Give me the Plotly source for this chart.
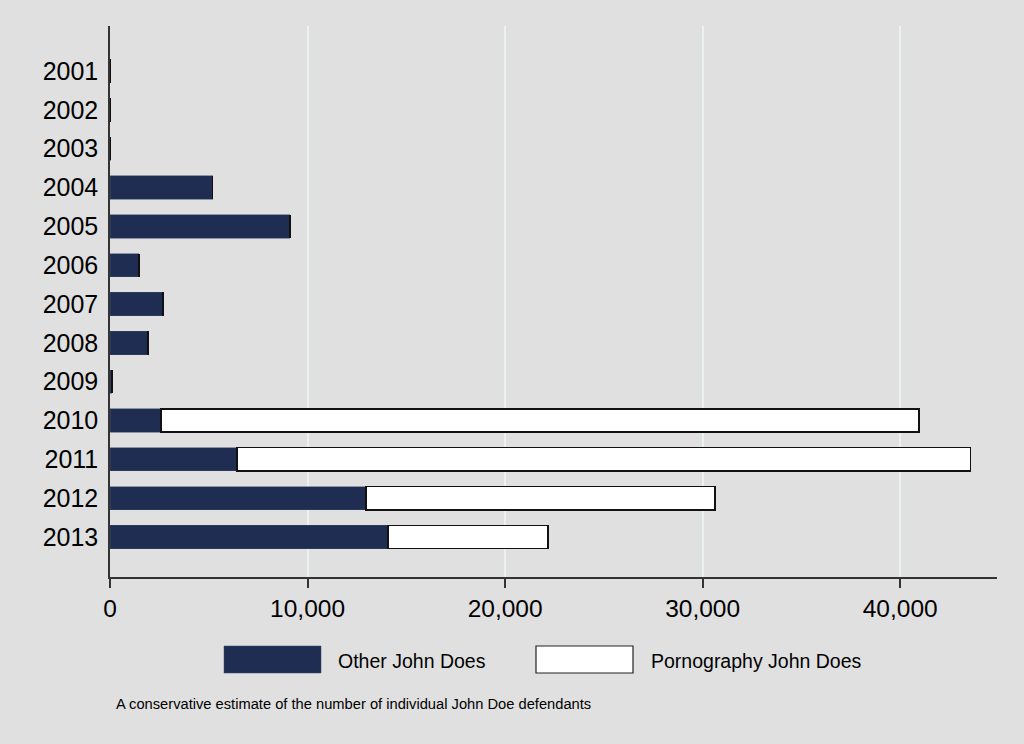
import plotly.graph_objects as go

years = ["2001", "2002", "2003", "2004", "2005", "2006", "2007",
         "2008", "2009", "2010", "2011", "2012", "2013"]
other_does = [10, 10, 30, 5200, 9100, 1470, 2680, 1920, 90, 2580, 6430, 12960, 14070]
porn_does = [0, 0, 0, 0, 0, 0, 0, 0, 0, 38360, 37140, 17660, 8100]
x_ticks = [0, 10000, 20000, 30000, 40000]
x_tick_labels = ["0", "10,000", "20,000", "30,000", "40,000"]

BG = "#e0e0e0"
NAVY = "#1f2d52"
FONT = "Liberation Sans, Arial, Helvetica, sans-serif"

fig = go.Figure()
fig.add_trace(go.Bar(
    y=years, x=other_does, orientation="h", name="Other John Does",
    marker=dict(color=NAVY, line=dict(color="#3a4868", width=0.5)),
))
fig.add_trace(go.Bar(
    y=years, x=porn_does, orientation="h", name="Pornography John Does",
    marker=dict(color="#ffffff", line=dict(color="#111111", width=1.5)),
))

fig.update_layout(
    barmode="stack",
    bargap=0.4,
    width=1024, height=744,
    paper_bgcolor=BG, plot_bgcolor=BG,
    margin=dict(l=110, r=27, t=26, b=167),
    showlegend=False,
    font=dict(family=FONT, color="#000000"),
    xaxis=dict(
        range=[0, 44900],
        tickvals=x_ticks, ticktext=x_tick_labels,
        tickfont=dict(size=24.5, color="#000000"),
        showgrid=True, gridcolor="#ecf2f2", gridwidth=1.5,
        zeroline=False,
        showline=True, linecolor="#333333", linewidth=1.5,
        ticks="outside", ticklen=9, tickwidth=1.5, tickcolor="#333333",
    ),
    yaxis=dict(
        type="category", categoryorder="array", categoryarray=years,
        range=[13.03, -1.16],
        tickfont=dict(size=25, color="#000000"),
        showgrid=False, zeroline=False,
        showline=True, linecolor="#333333", linewidth=1.5,
        ticks="", ticklabelstandoff=5,
    ),
)

# Legend drawn manually to mimic large swatches
legend_items = [
    (224, 321, NAVY, "#3a4868", 0.5, "Other John Does", 336),
    (536, 633, "#ffffff", "#222222", 1.2, "Pornography John Does", 649),
]
for x0, x1, fill, lc, lw, label, tx in legend_items:
    fig.add_shape(type="rect", xref="paper", yref="paper",
                  x0=(x0 - 110) / 887, x1=(x1 - 110) / 887,
                  y0=-(646 - 577) / 551, y1=-(673 - 577) / 551,
                  fillcolor=fill, line=dict(color=lc, width=lw), layer="above")
    fig.add_annotation(xref="paper", yref="paper", x=(tx - 110) / 887,
                       y=-(661 - 577) / 551, text=label, showarrow=False,
                       xanchor="left", yanchor="middle",
                       font=dict(size=19.5, color="#000000", family=FONT))

fig.add_annotation(xref="paper", yref="paper", x=(114 - 110) / 887,
                   y=-(704 - 577) / 551,
                   text="A conservative estimate of the number of individual John Doe defendants",
                   showarrow=False, xanchor="left", yanchor="middle",
                   font=dict(size=14.7, color="#000000", family=FONT))

fig.write_html(
    "out.html",
    config={"displayModeBar": False},
    post_script="document.body.style.margin='0';document.body.style.background='#e0e0e0';document.body.style.overflow='hidden';",
)
